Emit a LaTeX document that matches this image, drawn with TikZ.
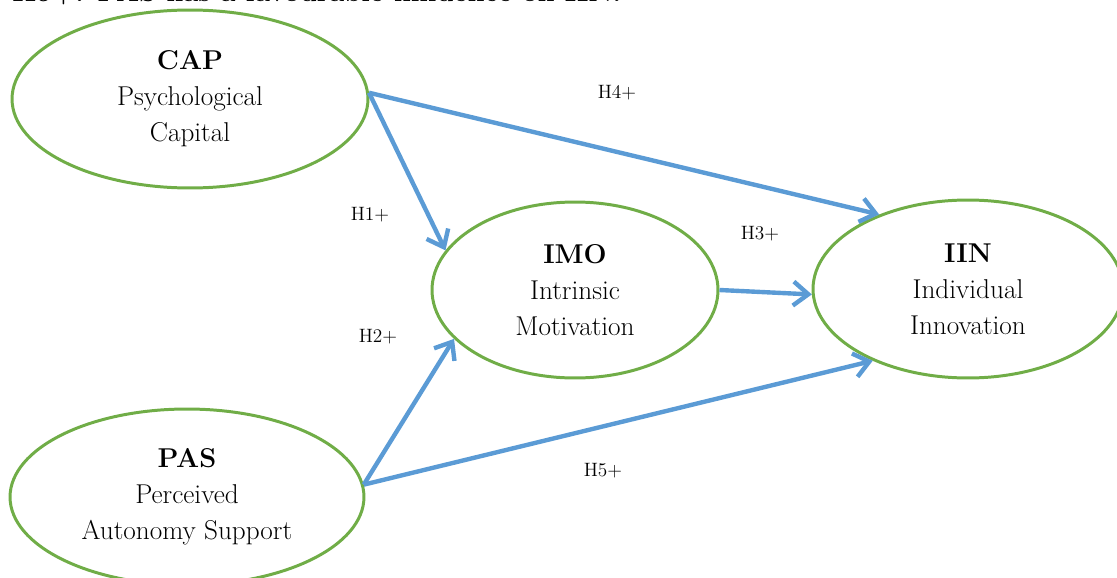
\documentclass[tikz,border=0pt]{standalone}
\usepackage{amsmath}
\usepackage{tikz}
\usetikzlibrary{arrows.meta}
\usetikzlibrary{shapes.geometric}

\definecolor{ovalgreen}{RGB}{112,173,71}
\definecolor{arrowblue}{RGB}{91,155,213}

\begin{document}
\begin{tikzpicture}[
    x=0.02cm, y=-0.02cm,
    construct/.style={ellipse, draw=ovalgreen, line width=1.7pt, inner sep=0pt,
        align=center, font=\fontsize{15.5}{20.5}\selectfont},
    path/.style={draw=arrowblue, line width=2.5pt, -{Straight Barb[length=0.3cm, width=0.48cm]}},
    hyp/.style={font=\fontsize{11}{13}\selectfont}
]

\clip (0,0) rectangle (1117,578);

% Heading line (cut off at top)
\node[anchor=base west, inner sep=0pt, font=\fontsize{15.5}{20.5}\selectfont\bfseries] (head) at (12,2) {H5+: PAS has a favourable influence on IIN.};

% Define constructs
\node[construct, minimum width=7.12cm, minimum height=3.56cm] (cap) at (190,99) {\textbf{CAP}\\Psychological\\Capital};
\node[construct, minimum width=5.72cm, minimum height=3.52cm] (imo) at (575,290) {\textbf{IMO}\\Intrinsic\\Motivation};
\node[construct, minimum width=6.2cm, minimum height=3.56cm] (iin) at (968,289) {\textbf{IIN}\\Individual\\Innovation};
\node[construct, minimum width=7.08cm, minimum height=3.52cm] (pas) at (187,497) {\textbf{PAS}\\Perceived\\Autonomy Support};

% Define paths
\draw[path] (cap.2) -- (iin.140);
\draw[path] (cap.2) -- (imo.163);
\draw[path] (imo.east) -- (iin.182);
\draw[path] (pas.4) -- (imo.202);
\draw[path] (pas.4) -- (iin.217);

% Hypotheses
\node[hyp] (h4) at (617,93) {H4+};
\node[hyp] (h1) at (370,215) {H1+};
\node[hyp] (h3) at (760,234) {H3+};
\node[hyp] (h2) at (378,337) {H2+};
\node[hyp] (h5) at (603,471) {H5+};

\end{tikzpicture}
\end{document}
